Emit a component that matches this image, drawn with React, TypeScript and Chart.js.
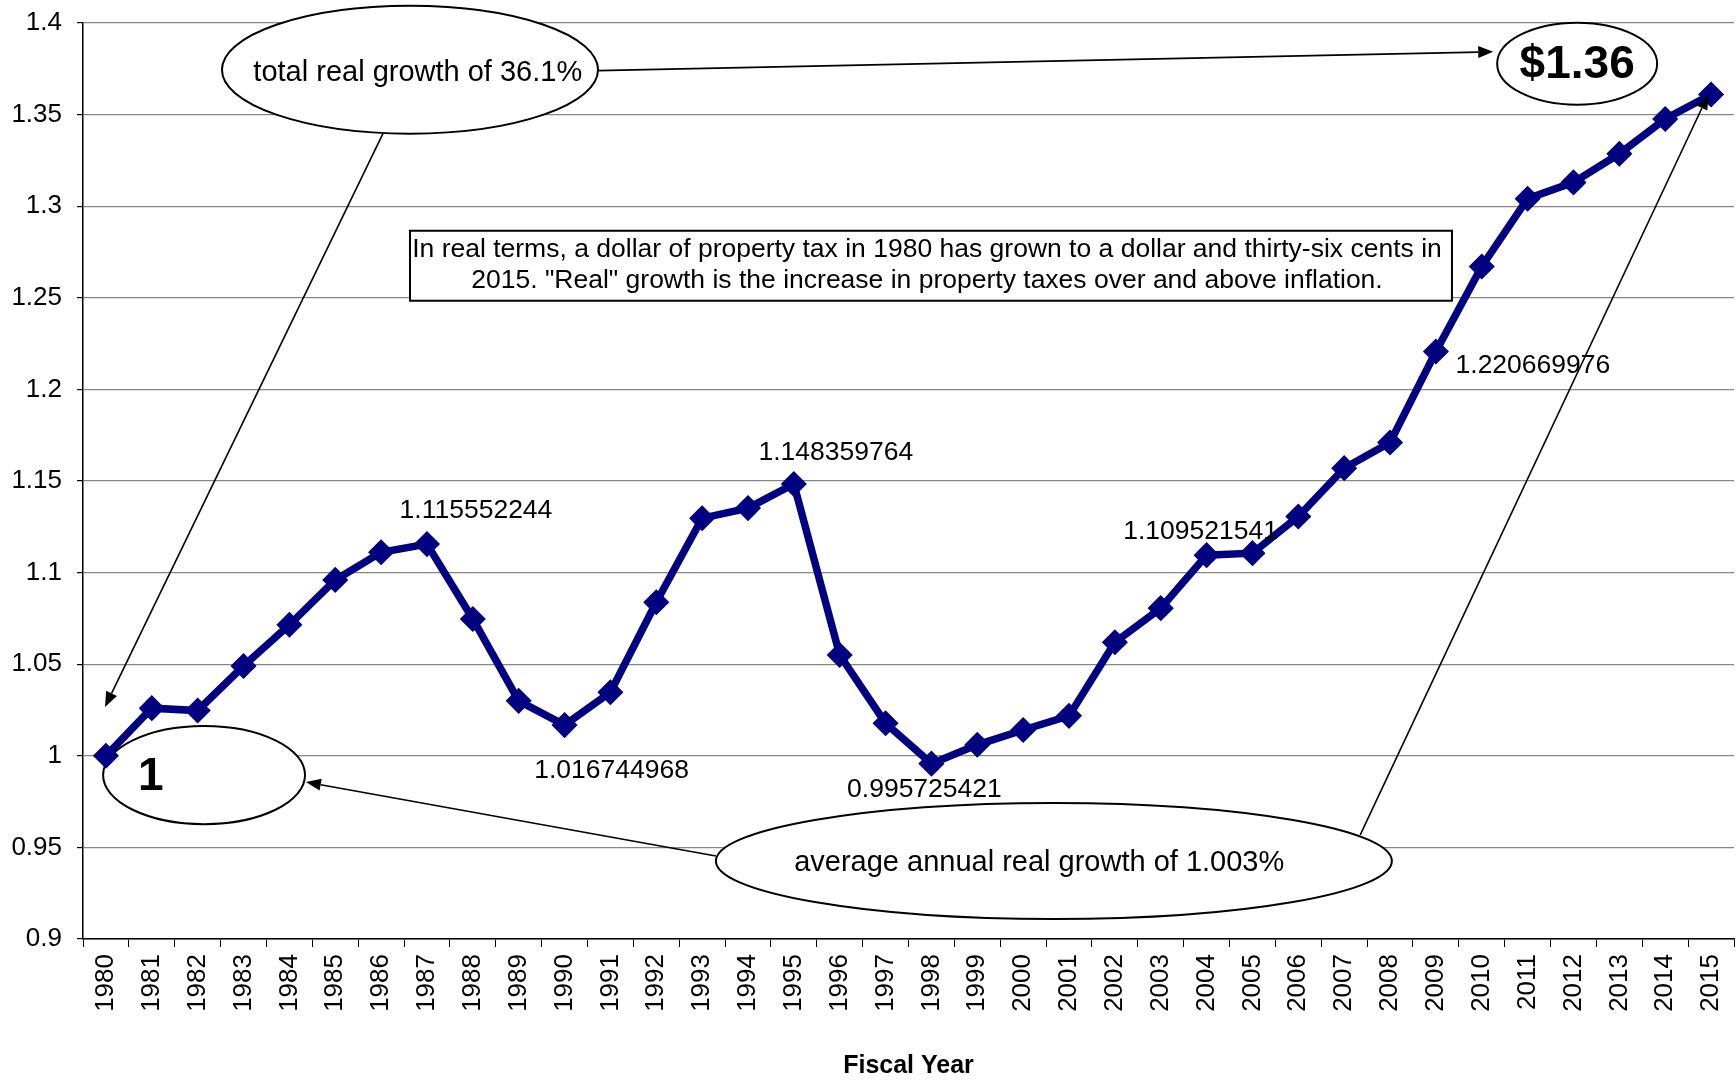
import React, { useEffect, useRef } from 'react';
import { Chart, registerables } from 'chart.js';

Chart.register(...registerables);

const FONT = "'Liberation Sans', Arial, Helvetica, sans-serif";

// ---------------- data ----------------
const fiscalYears = [
  '1980', '1981', '1982', '1983', '1984', '1985', '1986', '1987', '1988', '1989',
  '1990', '1991', '1992', '1993', '1994', '1995', '1996', '1997', '1998', '1999',
  '2000', '2001', '2002', '2003', '2004', '2005', '2006', '2007', '2008', '2009',
  '2010', '2011', '2012', '2013', '2014', '2015',
];

const realGrowth = [
  1.0, 1.026, 1.0247, 1.049, 1.0715, 1.096, 1.1111, 1.115552244, 1.0747, 1.03,
  1.016744968, 1.0347, 1.0838, 1.1297, 1.1352, 1.148359764, 1.055, 1.0178, 0.995725421, 1.006,
  1.0141, 1.0218, 1.062, 1.0806, 1.109521541, 1.1106, 1.1306, 1.157, 1.171, 1.220669976,
  1.2671, 1.3041, 1.313, 1.3286, 1.3476, 1.361,
];

const labeledYears = ['1987', '1990', '1995', '1998', '2004', '2009'];

const yTickMin = 0.9;
const yTickMax = 1.4;
const yTickStep = 0.05;

const xAxisTitle = 'Fiscal Year';

const noteLines = [
  'In real terms, a dollar of property tax in 1980 has grown to a dollar and thirty-six cents in',
  '2015. "Real" growth is the increase in property taxes over and above inflation.',
];

const calloutTexts = [
  'total real growth of 36.1%',
  '$1.36',
  '1',
  'average annual real growth of 1.003%',
];

// ---------------- positions / styles (in axis units) ----------------
const labelOffsets: Record<string, [number, number]> = {
  '1987': [49, -33],
  '1990': [47, 46],
  '1995': [42, -31],
  '1998': [-7, 26],
  '2004': [-6, -23],
  '2009': [97, 14],
};

const ellipseShapes = [
  { cx: 6.63, cy: 1.3745, rx: 4.1, ry: 0.0349 },
  { cx: 32.08, cy: 1.3778, rx: 1.744, ry: 0.0224 },
  { cx: 2.14, cy: 0.9895, rx: 2.202, ry: 0.0268 },
  { cx: 20.67, cy: 0.9426, rx: 7.37, ry: 0.0317 },
];

const calloutPlacement = [
  { x: 6.8, y: 1.3729, size: 29, bold: false },
  { x: 32.08, y: 1.3767, size: 46, bold: true },
  { x: 0.98, y: 0.9885, size: 46, bold: true },
  { x: 20.35, y: 0.9415, size: 29, bold: false },
];

const arrowLines = [
  { x0: 6.04, y0: 1.3396, x1: -0.02, y1: 1.0267 },
  { x0: 10.73, y0: 1.374, x1: 30.25, y1: 1.3843 },
  { x0: 13.3, y0: 0.9453, x1: 4.36, y1: 0.9857 },
  { x0: 27.35, y0: 0.9568, x1: 34.94, y1: 1.361 },
];

const noteBox = { x0: 6.63, x1: 29.35, y0: 1.2866, y1: 1.2484 };

const calloutPlugin = {
  id: 'callouts',
  beforeDatasetsDraw(chart: any) {
    const { ctx } = chart;
    const xs = chart.scales.x;
    const ys = chart.scales.y;
    const X = (i: number) => xs.getPixelForValue(i);
    const Y = (v: number) => ys.getPixelForValue(v);
    ctx.save();
    // note box
    const bx0 = X(noteBox.x0);
    const bx1 = X(noteBox.x1);
    const by0 = Y(noteBox.y0);
    const by1 = Y(noteBox.y1);
    ctx.fillStyle = '#ffffff';
    ctx.fillRect(bx0, by0, bx1 - bx0, by1 - by0);
    ctx.lineWidth = 2;
    ctx.strokeStyle = '#000000';
    ctx.strokeRect(bx0, by0, bx1 - bx0, by1 - by0);
    ctx.fillStyle = '#000000';
    ctx.font = `26.5px ${FONT}`;
    ctx.textAlign = 'center';
    ctx.textBaseline = 'middle';
    const bcx = (bx0 + bx1) / 2;
    const bcy = (by0 + by1) / 2;
    ctx.fillText(noteLines[0], bcx - 4, bcy - 16);
    ctx.fillText(noteLines[1], bcx - 4, bcy + 15);
    // ellipses
    for (const e of ellipseShapes) {
      const cx = X(e.cx);
      const cy = Y(e.cy);
      const rx = Math.abs(X(e.cx + e.rx) - cx);
      const ry = Math.abs(Y(e.cy + e.ry) - cy);
      ctx.beginPath();
      ctx.ellipse(cx, cy, rx, ry, 0, 0, Math.PI * 2);
      ctx.fillStyle = '#ffffff';
      ctx.fill();
      ctx.lineWidth = 2;
      ctx.strokeStyle = '#000000';
      ctx.stroke();
    }
    ctx.restore();
  },
  afterDatasetsDraw(chart: any) {
    const { ctx } = chart;
    const xs = chart.scales.x;
    const ys = chart.scales.y;
    const X = (i: number) => xs.getPixelForValue(i);
    const Y = (v: number) => ys.getPixelForValue(v);
    ctx.save();
    // arrows
    for (const a of arrowLines) {
      const x0 = X(a.x0);
      const y0 = Y(a.y0);
      const x1 = X(a.x1);
      const y1 = Y(a.y1);
      const ang = Math.atan2(y1 - y0, x1 - x0);
      const headLen = 15;
      const headHalf = 6;
      const bx = x1 - Math.cos(ang) * headLen;
      const by = y1 - Math.sin(ang) * headLen;
      ctx.beginPath();
      ctx.moveTo(x0, y0);
      ctx.lineTo(bx, by);
      ctx.lineWidth = 1.6;
      ctx.strokeStyle = '#000000';
      ctx.stroke();
      ctx.beginPath();
      ctx.moveTo(x1, y1);
      ctx.lineTo(bx + Math.sin(ang) * headHalf, by - Math.cos(ang) * headHalf);
      ctx.lineTo(bx - Math.sin(ang) * headHalf, by + Math.cos(ang) * headHalf);
      ctx.closePath();
      ctx.fillStyle = '#000000';
      ctx.fill();
    }
    // callout texts
    ctx.textAlign = 'center';
    ctx.textBaseline = 'middle';
    ctx.fillStyle = '#000000';
    calloutTexts.forEach((t, k) => {
      const p = calloutPlacement[k];
      ctx.font = `${p.bold ? 'bold ' : ''}${p.size}px ${FONT}`;
      ctx.fillText(t, X(p.x), Y(p.y));
    });
    // data labels
    const meta = chart.getDatasetMeta(0);
    ctx.font = `26.5px ${FONT}`;
    labeledYears.forEach((yr) => {
      const idx = fiscalYears.indexOf(yr);
      const pt = meta.data[idx];
      if (!pt) return;
      const off = labelOffsets[yr] || [0, 0];
      ctx.fillText(realGrowth[idx].toFixed(9), pt.x + off[0], pt.y + off[1]);
    });
    ctx.restore();
  },
};

export default function App() {
  const canvasRef = useRef<HTMLCanvasElement | null>(null);

  useEffect(() => {
    document.body.style.margin = '0';
    document.body.style.overflow = 'hidden';
    const canvas = canvasRef.current;
    if (!canvas) return;
    const chart = new Chart(canvas, {
      type: 'line',
      data: {
        labels: fiscalYears,
        datasets: [
          {
            data: realGrowth,
            borderColor: '#000080',
            backgroundColor: '#000080',
            borderWidth: 7.5,
            pointStyle: 'rectRot',
            pointRadius: 12,
            pointBorderWidth: 1.5,
            pointBackgroundColor: '#000080',
            pointBorderColor: '#000080',
            tension: 0,
            fill: false,
            clip: false,
          },
        ],
      },
      options: {
        animation: false,
        responsive: false,
        maintainAspectRatio: false,
        layout: { autoPadding: false, padding: { left: 0, right: 2, top: 23, bottom: 0 } },
        plugins: {
          legend: { display: false },
          tooltip: { enabled: false },
        },
        scales: {
          x: {
            type: 'category',
            offset: true,
            grid: {
              display: true,
              drawOnChartArea: false,
              offset: true,
              tickLength: 8,
              color: '#000000',
              tickColor: '#000000',
            },
            border: { color: '#000000', width: 1.5 },
            ticks: {
              autoSkip: false,
              minRotation: 90,
              maxRotation: 90,
              padding: 7,
              color: '#000000',
              font: { family: FONT, size: 26 },
            },
            title: {
              display: true,
              text: xAxisTitle,
              color: '#000000',
              font: { family: FONT, size: 25, weight: 'bold' },
              padding: { top: 0, bottom: 0 },
            },
            afterFit: (s: any) => {
              s.height = 142;
              s.paddingLeft = 0;
              s.paddingRight = 0;
            },
          },
          y: {
            min: yTickMin,
            max: yTickMax,
            grid: {
              color: '#868686',
              lineWidth: 1.2,
              tickLength: 6,
              tickColor: '#000000',
            },
            border: { color: '#000000', width: 1.5 },
            ticks: {
              stepSize: yTickStep,
              padding: 15,
              color: '#000000',
              font: { family: FONT, size: 26 },
              callback: (v: any) => String(Number(Number(v).toFixed(2))),
            },
            afterFit: (s: any) => {
              s.width = 83;
              s.paddingTop = 0;
              s.paddingBottom = 0;
            },
          },
        },
      } as any,
      plugins: [calloutPlugin as any],
    });
    return () => chart.destroy();
  }, []);

  return (
    <div style={{ width: 1736, height: 1081, background: '#ffffff' }}>
      <canvas ref={canvasRef} width={1736} height={1081} style={{ display: 'block' }} />
    </div>
  );
}
